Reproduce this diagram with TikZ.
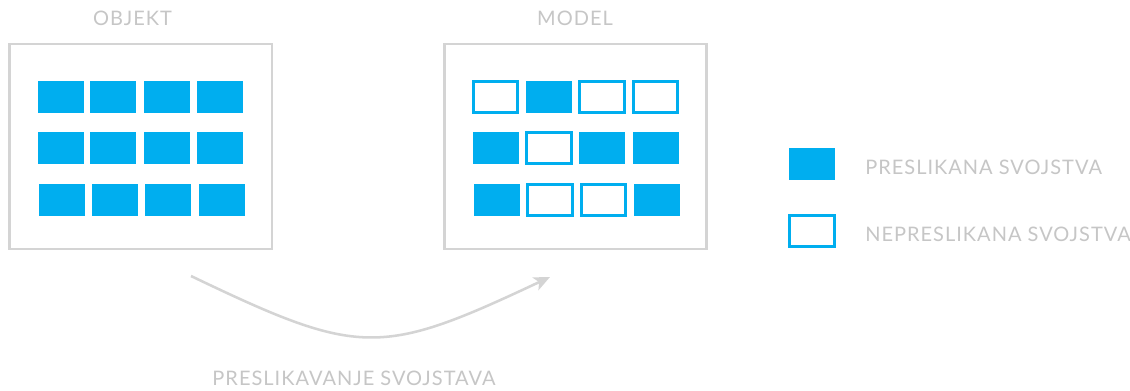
\documentclass[tikz,border=0pt]{standalone}
\usepackage{fontspec}
\setmainfont{Lato}[LetterSpace=5]
\usetikzlibrary{arrows.meta}
\definecolor{sky}{HTML}{00AEEF}
\definecolor{labelgray}{HTML}{C6C6C6}
\definecolor{framegray}{HTML}{D4D4D4}
\begin{document}
\begin{tikzpicture}[x=0.75pt,y=-0.75pt,
  panel/.style={draw=framegray,line width=1.9pt,minimum width=262.5*0.75pt,minimum height=205*0.75pt,inner sep=0pt,fill=white},
  fullcell/.style={fill=sky,minimum width=46*0.75pt,minimum height=32*0.75pt,inner sep=0pt},
  emptycell/.style={draw=sky,line width=1.9pt,fill=white,minimum width=44.5*0.75pt,minimum height=31.5*0.75pt,inner sep=0pt},
  lbl/.style={text=labelgray,font=\fontsize{15}{18}\selectfont,inner sep=0pt},
  flow/.style={draw=framegray,line width=1.9pt,-{Stealth[length=12pt,width=10.5pt,inset=3pt]}}]
\fill[white] (0,0) rectangle (1130,391);
\useasboundingbox (0,0) rectangle (1130,391);
% panels
\node[panel] (objekt) at (140.75,146.5) {};
\node[panel] (model) at (575.5,146.5) {};
\node[lbl] (tobjekt) at (132.5,18.7) {OBJEKT};
\node[lbl] (tmodel) at (575,18.7) {MODEL};
% object cells
\foreach \cx/\cy/\nm in {61/97/a1,113/97/a2,167/97/a3,220/97/a4,
                         61/148/b1,113/148/b2,167/148/b3,220/148/b4,
                         62/200/c1,115/200/c2,168/200/c3,222/200/c4}
  \node[fullcell] (o\nm) at (\cx,\cy) {};
% model cells
\node[emptycell] (ma1) at (495.5,97) {};
\node[fullcell]  (ma2) at (549,97) {};
\node[emptycell] (ma3) at (602,97) {};
\node[emptycell] (ma4) at (655.5,97) {};
\node[fullcell]  (mb1) at (496,148) {};
\node[emptycell] (mb2) at (549,148) {};
\node[fullcell]  (mb3) at (602,148) {};
\node[fullcell]  (mb4) at (656,148) {};
\node[fullcell]  (mc1) at (497,200) {};
\node[emptycell] (mc2) at (550,200) {};
\node[emptycell] (mc3) at (603.5,200) {};
\node[fullcell]  (mc4) at (657,200) {};
% legend
\node[fullcell] (legfull) at (812,164) {};
\node[emptycell] (legempty) at (812,231) {};
\node[lbl,anchor=west] (tfull) at (865,167) {PRESLIKANA SVOJSTVA};
\node[lbl,anchor=west] (tempty) at (865,234.7) {NEPRESLIKANA SVOJSTVA};
% mapping arrow
\coordinate (arrS) at (191,276);
\coordinate (arrE) at (550,277);
\draw[flow] (arrS) .. controls (360,357) and (380,357) .. (arrE);
\node[lbl] (tmap) at (354,378.5) {PRESLIKAVANJE SVOJSTAVA};
\end{tikzpicture}
\end{document}
